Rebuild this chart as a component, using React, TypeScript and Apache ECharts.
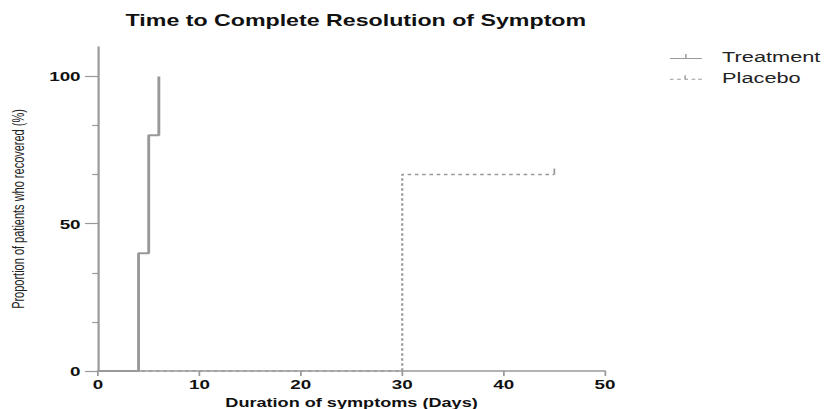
import React, { useEffect, useRef } from "react";
import * as echarts from "echarts";

const titleText = "Time to Complete Resolution of Symptom";
const xAxisName = "Duration of symptoms (Days)";
const yAxisName = "Proportion of patients who recovered (%)";

const treatmentDays = [0, 4, 5, 6];
const treatmentPct = [0, 40, 80, 100];

const placeboDays = [0, 30, 45];
const placeboPct = [0, 66.7, 66.7];
const placeboCensored = [false, false, true];

const yMajorTicks = [0, 50, 100];
const yMinorTicks = [16.67, 33.33, 66.67, 83.33];

const S = 1.45; // horizontal stretch of the reference picture
const W = 825 / S;
const H = 409;

const FONT = "Liberation Sans, Arial, Helvetica, sans-serif";

export default function App() {
  const ref = useRef<HTMLDivElement>(null);
  useEffect(() => {
    if (!ref.current) return;
    const chart = echarts.init(ref.current, undefined, { renderer: "svg" });
    const gridLeft = 98 / S;
    const gridRight = W - 605 / S;
    const treatData = treatmentDays.map((d, i) => [d, treatmentPct[i]]);
    const placData = placeboDays.map((d, i) =>
      placeboCensored[i]
        ? {
            value: [d, placeboPct[i]],
            symbol: "rect",
            symbolSize: [1.2, 6],
            symbolOffset: [0, -3],
            itemStyle: { color: "#999" },
          }
        : { value: [d, placeboPct[i]], symbol: "none" }
    );
    chart.setOption({
      animation: false,
      backgroundColor: "#fff",
      title: {
        text: titleText,
        left: (gridLeft + (W - gridRight)) / 2 - 2,
        textAlign: "center",
        top: 7,
        textStyle: { fontFamily: FONT, fontWeight: "bold", fontSize: 16, color: "#111" },
      },
      legend: {
        orient: "vertical",
        left: 457,
        top: 44,
        itemGap: 6,
        itemWidth: 31,
        itemHeight: 5,
        textStyle: { fontFamily: FONT, fontSize: 15, color: "#222" },
        data: [
          {
            name: "Treatment",
            icon: "path://M0,4h22v1h-22z M10.5,0h1v4h-1z M30.9,4.9h0.1v0.1h-0.1z",
          },
          {
            name: "Placebo",
            icon:
              "path://M0,4h2.5v1h-2.5z M5,4h2.5v1h-2.5z M10,0.5h1v4.5h-1z M11,4h1.5v1h-1.5z M15,4h2.5v1h-2.5z M19.5,4h2.5v1h-2.5z M30.9,4.9h0.1v0.1h-0.1z",
          },
        ],
      },
      grid: { left: gridLeft, right: gridRight, top: 47, bottom: 38, outerBoundsMode: "none", containLabel: false },
      xAxis: {
        type: "value",
        min: 0,
        max: 50,
        interval: 10,
        name: xAxisName,
        nameLocation: "middle",
        nameGap: 19,
        nameTextStyle: { fontFamily: FONT, fontWeight: "bold", fontSize: 12.5, color: "#111" },
        axisLine: { lineStyle: { color: "#999", width: 1.5 } },
        axisTick: { length: 5, lineStyle: { color: "#999", width: 1.2 } },
        axisLabel: { margin: 7, fontFamily: FONT, fontWeight: "bold", fontSize: 13, color: "#111" },
        splitLine: { show: false },
      },
      yAxis: [
        {
          type: "value",
          min: 0,
          max: 110,
          interval: 50,
          name: yAxisName,
          nameLocation: "middle",
          nameGap: 49,
          nameRotate: 90,
          nameTextStyle: { fontFamily: FONT, fontSize: 11, color: "#222" },
          axisLine: { show: true, lineStyle: { color: "#999", width: 1.5 } },
          axisTick: { show: true, length: 9, customValues: yMajorTicks, lineStyle: { color: "#999", width: 1.2 } },
          axisLabel: { margin: 12, customValues: yMajorTicks, fontFamily: FONT, fontWeight: "bold", fontSize: 13, color: "#111" },
          splitLine: { show: false },
        },
        {
          type: "value",
          min: 0,
          max: 110,
          position: "left",
          axisLine: { show: false },
          axisTick: { show: true, length: 4, customValues: yMinorTicks, lineStyle: { color: "#999", width: 1.2 } },
          axisLabel: { show: false },
          splitLine: { show: false },
        },
      ],
      series: [
        {
          name: "Treatment",
          type: "line",
          step: "end",
          symbol: "none",
          data: treatData,
          lineStyle: { color: "#999", width: 2 },
          itemStyle: { color: "#999" },
          z: 3,
        },
        {
          name: "Placebo",
          type: "line",
          step: "end",
          symbol: "none",
          showSymbol: true,
          data: placData,
          lineStyle: { color: "#999", width: 1.5, type: [2.5, 2.5] },
          itemStyle: { color: "#999" },
          z: -1,
        },
      ],
    });
    return () => chart.dispose();
  }, []);
  return (
    <div
      ref={ref}
      style={{
        position: "fixed",
        left: 0,
        top: 0,
        width: W,
        height: H,
        transform: `scaleX(${S})`,
        transformOrigin: "0 0",
        background: "#fff",
      }}
    />
  );
}
